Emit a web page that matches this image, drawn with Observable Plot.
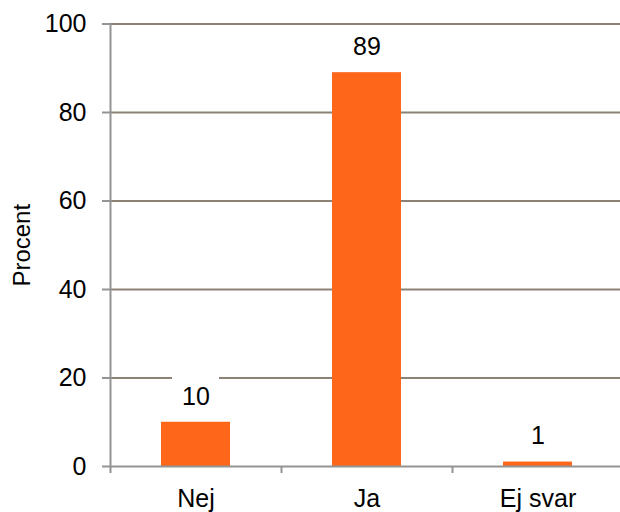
<!DOCTYPE html>
<html><head><meta charset="utf-8">
<script src="https://cdn.jsdelivr.net/npm/d3@7"></script>
<script src="https://cdn.jsdelivr.net/npm/@observablehq/plot@0.6"></script>
<style>body{margin:0;background:#fff;overflow:hidden} svg{display:block}</style>
</head><body><div id="chart"></div>
<script>
const categories = ["Nej", "Ja", "Ej svar"];
const values = [10, 89, 1];
const yTicks = [0, 20, 40, 60, 80, 100];
const yLabel = "Procent";

const data = categories.map((c, i) => ({category: c, value: values[i]}));
const W = 620, H = 512, ML = 110, MR = -3, MT = 23.5, MB = 46;
const step = (W - ML - MR) / categories.length;
const axisColor = "#949494";
const gridColor = "#8c8273";

const plot = Plot.plot({
  width: W, height: H,
  marginLeft: ML, marginRight: MR, marginTop: MT, marginBottom: MB,
  style: {fontFamily: "'Liberation Sans', Arial, sans-serif", fontSize: "25px", color: "#000", background: "#fff"},
  x: {domain: categories, padding: 0, axis: null},
  y: {domain: [0, 100], axis: null},
  marks: [
    Plot.gridY(yTicks.slice(1), {stroke: gridColor, strokeOpacity: 1, strokeWidth: 2}),
    Plot.barY(data, {x: "category", y: "value", fill: "#fe6619", insetLeft: 51, insetRight: 51}),
    Plot.barY(data, {x: "category", y1: "value", y2: "value", fill: "white", insetTop: -46.5, insetBottom: 8, insetLeft: 62, insetRight: 62}),
    Plot.text(data, {x: "category", y: "value", text: d => String(d.value), dy: -17.7, lineAnchor: "bottom", fontSize: 25, fill: "#000"}),
    Plot.ruleY([0], {stroke: axisColor, strokeWidth: 2}),
    Plot.ruleX(categories.slice(1), {x: d => d, y1: 0, y2: 0, dx: -step / 2, insetBottom: -7, stroke: axisColor, strokeWidth: 2}),
    Plot.ruleX([categories[0]], {x: d => d, dx: -step / 2, insetBottom: -7, stroke: axisColor, strokeWidth: 2}),
    Plot.axisY({ticks: yTicks, tickSize: 8, tickPadding: 16, stroke: axisColor, strokeWidth: 2, fill: "#000", fontSize: 25, label: null}),
    Plot.axisX({tickSize: 0, tickPadding: 23, fontSize: 25, fill: "#000", label: null}),
    Plot.text([yLabel], {frameAnchor: "left", textAnchor: "middle", lineAnchor: "middle", rotate: -90, dx: -88, text: d => d, fontSize: 24, fill: "#000"})
  ]
});
document.getElementById("chart").appendChild(plot);
</script>
</body></html>
